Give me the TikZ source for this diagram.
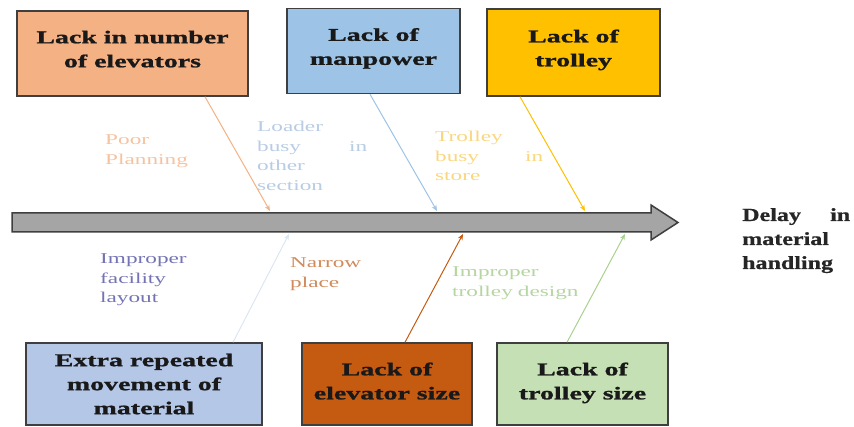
\documentclass[tikz,border=0pt]{standalone}
\usepackage{fontspec}
\setmainfont{Liberation Serif}
\newfontfamily\boxfnt{Liberation Serif}[FakeStretch=1.55, FakeBold=1.2]
\newfontfamily\lblfnt{Liberation Serif}[FakeStretch=1.55]
\newfontfamily\effnt{Liberation Serif}[FakeStretch=1.3, FakeBold=0.8]
\usetikzlibrary{arrows.meta}
\definecolor{c1}{HTML}{F4B183}
\definecolor{c2}{HTML}{9DC3E6}
\definecolor{c3}{HTML}{FFC000}
\definecolor{c4}{HTML}{B4C7E7}
\definecolor{c5}{HTML}{C55A11}
\definecolor{c6}{HTML}{C5E0B4}
\definecolor{l1}{HTML}{F5C3A0}
\definecolor{l2}{HTML}{B8CCE4}
\definecolor{l3}{HTML}{F9D77E}
\definecolor{l4}{HTML}{7474B4}
\definecolor{l5}{HTML}{D08A5C}
\definecolor{l6}{HTML}{B5D6A0}
\definecolor{a4}{HTML}{DCE6F2}
\definecolor{a6}{HTML}{A9D18E}
\definecolor{bord}{HTML}{3F3F3F}
\definecolor{shaft}{HTML}{A5A5A5}
\tikzset{
  causebox/.style={draw=bord, line width=1.5pt, inner sep=0pt, align=center,
    font={\boxfnt\bfseries\fontsize{18}{24}\selectfont}, text=black!90},
  lbl/.style={anchor=base west, inner sep=0pt, align=left,
    font={\lblfnt\fontsize{15}{19.5}\selectfont}},
  bone/.style={line width=1pt, -{Stealth[length=6pt,width=5pt]}},
}
\begin{document}
\begin{tikzpicture}[x=1pt, y=-1pt]
\useasboundingbox (0,0) rectangle (854,427);
% main arrow
\draw[draw=bord, fill=shaft, line width=1.5pt, line join=miter]
  (12,213) -- (651,213) -- (651,205) -- (678,222.5) -- (651,240) -- (651,232) -- (12,232) -- cycle;
\coordinate (t1) at (270,211);
\coordinate (t2) at (437,211);
\coordinate (t3) at (585,211);
\coordinate (t4) at (289,234);
\coordinate (t5) at (463,234);
\coordinate (t6) at (625,234);
% top boxes
\node[causebox, fill=c1, minimum width=231, minimum height=85] (b1) at (132.5,53.5) {Lack in number\\of elevators\rule[-9pt]{0pt}{1pt}};
\node[causebox, fill=c2, minimum width=173, minimum height=85] (b2) at (373.5,51) {Lack of\\manpower\rule[-9pt]{0pt}{1pt}};
\node[causebox, fill=c3, minimum width=173, minimum height=87] (b3) at (573.5,52.5) {Lack of\\trolley\rule[-9pt]{0pt}{1pt}};
% bottom boxes
\node[causebox, fill=c4, minimum width=236, minimum height=82] (b4) at (144,384) {Extra repeated\\movement of\\material};
\node[causebox, fill=c5, minimum width=170, minimum height=82] (b5) at (387,384) {Lack of\\elevator size\rule[-6pt]{0pt}{1pt}};
\node[causebox, fill=c6, minimum width=171, minimum height=82] (b6) at (582.5,384) {Lack of\\trolley size\rule[-6pt]{0pt}{1pt}};
% bones
\draw[bone, c1] ([xshift=72.5pt]b1.south) -- (t1);
\draw[bone, c2] ([xshift=-3.5pt]b2.south) -- (t2);
\draw[bone, c3] ([xshift=-53.5pt]b3.south) -- (t3);
\draw[bone, a4] ([xshift=89pt]b4.north) -- (t4);
\draw[bone, c5] ([xshift=18pt]b5.north) -- (t5);
\draw[bone, a6] ([xshift=-15.5pt]b6.north) -- (t6);
% labels
\node[lbl, text=l1, text width=100pt] (p1) at (105,145) {Poor\\Planning};
\node[lbl, text=l2, text width=110pt] (p2) at (257,132) {Loader\\busy\hfill in\\other\\section};
\node[lbl, text=l3, text width=108pt] (p3) at (435,142) {Trolley\\busy\hfill in\\store};
\node[lbl, text=l4, text width=100pt] (p4) at (100,264) {Improper\\facility\\layout};
\node[lbl, text=l5, text width=90pt] (p5) at (290,268) {Narrow\\place};
\node[lbl, text=l6, text width=140pt] (p6) at (452,277) {Improper\\trolley design};
% effect
\node[anchor=base west, inner sep=0pt, align=left, text width=108pt, text=black!85,
  font={\effnt\bfseries\fontsize{18.5}{24}\selectfont}] (eff) at (742,221) {Delay\hfill in\\material\\handling};
\end{tikzpicture}
\end{document}
